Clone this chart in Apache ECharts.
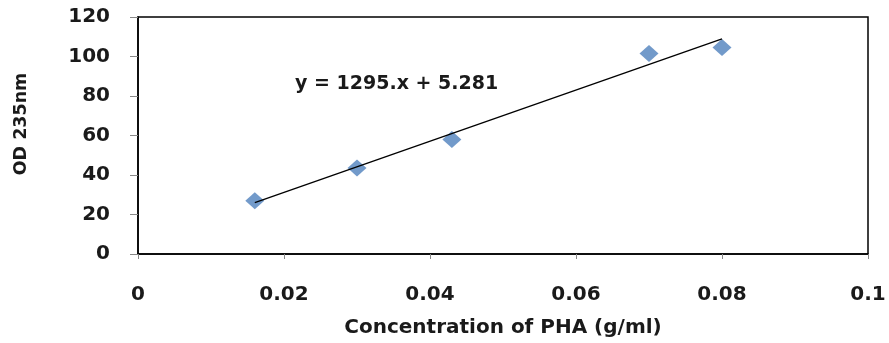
<!DOCTYPE html>
<html>
<head>
<meta charset="utf-8">
<script src="https://cdn.jsdelivr.net/npm/echarts@6/dist/echarts.min.js"></script>
<style>
html, body { margin: 0; padding: 0; background: #fff; }
#main { width: 889px; height: 343px; }
</style>
</head>
<body>
<div id="main"></div>
<script>
var concentration = [0.016, 0.030, 0.043, 0.070, 0.080];
var od = [27, 43.5, 58, 101.5, 104.5];
var trendX = [0.016, 0.080];
var trendY = [26.0, 108.9];
var equation = 'y = 1295.x + 5.281';
var yTitle = 'OD 235nm';

var chartDom = document.getElementById('main');
var myChart = echarts.init(chartDom);
var option;

var font = 'DejaVu Sans, sans-serif';

option = {
    backgroundColor: '#fff',
    animation: false,
    grid: {
        left: 138,
        right: 21,
        top: 17,
        bottom: 89,
        outerBoundsMode: 'none',
        show: true,
        borderColor: '#000',
        borderWidth: 1.5
    },
    xAxis: {
        type: 'value',
        min: 0,
        max: 0.1,
        interval: 0.02,
        name: 'Concentration of PHA (g/ml)',
        nameLocation: 'middle',
        nameGap: 64,
        nameTextStyle: { fontFamily: font, fontWeight: 'bold', fontSize: 20, color: '#1a1a1a' },
        axisLine: { lineStyle: { color: '#000', width: 1.5 } },
        axisTick: { show: true, length: 5, lineStyle: { color: '#888' } },
        axisLabel: { margin: 31, fontFamily: font, fontWeight: 'bold', fontSize: 20, color: '#1a1a1a' },
        splitLine: { show: false }
    },
    yAxis: {
        type: 'value',
        min: 0,
        max: 120,
        interval: 20,
        axisLine: { show: true, lineStyle: { color: '#000', width: 1.5 } },
        axisTick: { show: true, length: 8, lineStyle: { color: '#888' } },
        axisLabel: { margin: 28, fontFamily: font, fontWeight: 'bold', fontSize: 20, color: '#1a1a1a' },
        splitLine: { show: false }
    },
    graphic: [
        {
            type: 'text',
            left: 295,
            top: 75,
            style: {
                text: equation,
                font: 'bold 19px ' + font,
                fill: '#1a1a1a'
            }
        },
        {
            type: 'text',
            x: 21,
            y: 124,
            rotation: Math.PI / 2,
            style: {
                text: yTitle,
                font: 'bold 17.5px ' + font,
                fill: '#1a1a1a',
                align: 'center',
                verticalAlign: 'middle'
            }
        }
    ],
    series: [
        {
            type: 'line',
            data: trendX.map(function (x, i) { return [x, trendY[i]]; }),
            symbol: 'none',
            lineStyle: { color: '#000', width: 1.3 },
            z: 3
        },
        {
            type: 'scatter',
            data: concentration.map(function (x, i) { return [x, od[i]]; }),
            symbol: 'diamond',
            symbolSize: [19, 17],
            itemStyle: { color: '#4F81BD' },
            z: 2
        }
    ]
};

option && myChart.setOption(option);
window.onresize = function () {
    myChart.resize();
};
</script>
</body>
</html>
